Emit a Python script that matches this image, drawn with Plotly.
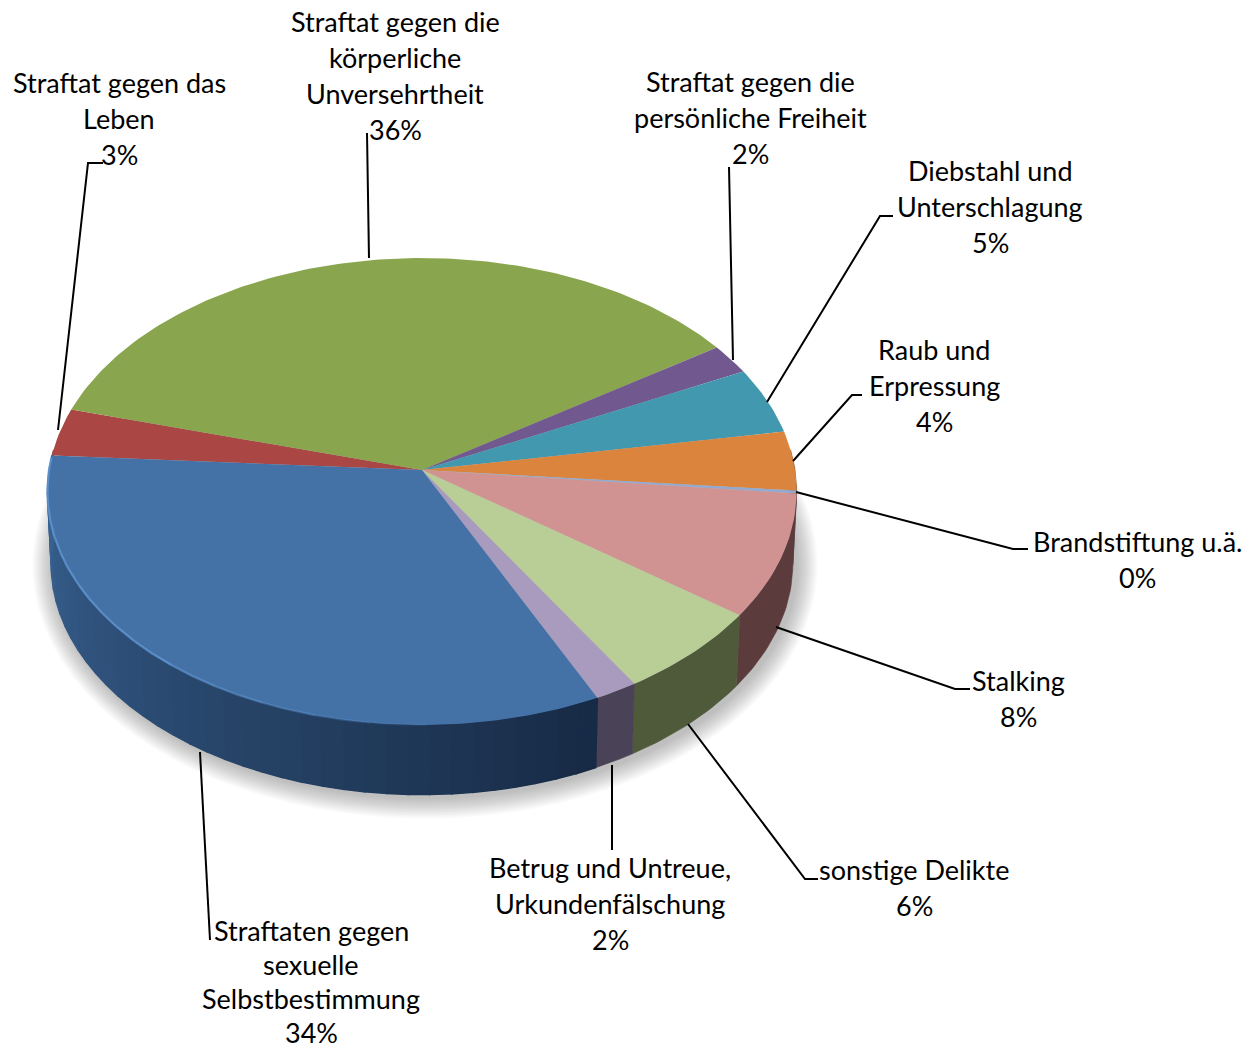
import math
import plotly.graph_objects as go

# ---- data ----
categories = [
    "Straftat gegen das Leben", "Straftat gegen die körperliche Unversehrtheit",
    "Straftat gegen die persönliche Freiheit", "Diebstahl und Unterschlagung",
    "Raub und Erpressung", "Brandstiftung u.ä.", "Stalking", "sonstige Delikte",
    "Betrug und Untreue, Urkundenfälschung", "Straftaten gegen sexuelle Selbstbestimmung",
]
values = [3.3, 36.3, 2.1, 4.6, 4.1, 0.2, 8.5, 6.1, 1.7, 33.1]
percent_labels = ["3%", "36%", "2%", "5%", "4%", "0%", "8%", "6%", "2%", "34%"]
label_lines = [
    ["Straftat gegen das", "Leben"],
    ["Straftat gegen die", "körperliche", "Unversehrtheit"],
    ["Straftat gegen die", "persönliche Freiheit"],
    ["Diebstahl und", "Unterschlagung"],
    ["Raub und", "Erpressung"],
    ["Brandstiftung u.ä."],
    ["Stalking"],
    ["sonstige Delikte"],
    ["Betrug und Untreue,", "Urkundenfälschung"],
    ["Straftaten gegen", "sexuelle", "Selbstbestimmung"],
]
top_colors = ["#AA4643", "#89A54E", "#71588F", "#4198AF", "#DB843D",
              "#93A9CF", "#D19392", "#B9CD96", "#A99BBD", "#4472A7"]
side_colors = ["#5a2a28", "#4e5e2c", "#3f3152", "#255766", "#7d4b22",
               "#54607a", "#5c3b3d", "#4e5a3a", "#4a4256", "#2c4a70"]

# ---- layout of the drawing (pixels of the 1256x1050 page) ----
W, H = 1256, 1050
CX, CY = 422, 470        # apex of the pie on the page
A, B, K = 373, 231.5, -0.092   # perspective projection of the disc
ELL_Y = 491              # centre of the projected ellipse
DEPTH, SHRINK = 72, 0.99
START = 285.5 - 360 * values[0] / 100   # clockwise from north
FONT = "Lato"
FS = 27
label_pos = [(119, 82), (395, 21), (750, 81), (990, 170), (934, 349),
             (1137, 541), (1018, 680), (914, 869), (610, 867), (311, 930)]
label_pitch = [36, 36, 36, 36, 36, 36, 36, 36, 36, 34.3]
leaders = [
    [(103, 163), (88, 163), (58, 430)],
    [(367, 133), (369, 258)],
    [(729, 167), (733, 360)],
    [(893, 216), (880, 216), (767, 402)],
    [(862, 395), (852, 395), (793, 461)],
    [(1028, 549), (1013, 549), (796, 492)],
    [(970, 689), (955, 689), (776, 627)],
    [(818, 879), (805, 879), (688, 724)],
    [(612, 850), (612, 765)],
    [(210, 940), (200, 752)],
]


def rim(deg, down=False):
    t = math.radians(deg)
    u, v = math.sin(t), -math.cos(t)
    w = 1 + K * v
    x, y = CX + A * u / w, CY + B * v / w
    if down:
        x = CX + (x - CX) * SHRINK
        y = ELL_Y + (y - ELL_Y) * SHRINK + DEPTH
    return x, y


def mix(c1, c2, f):
    a = [int(c1[i:i + 2], 16) for i in (1, 3, 5)]
    b = [int(c2[i:i + 2], 16) for i in (1, 3, 5)]
    return "#%02x%02x%02x" % tuple(round(p + (q - p) * f) for p, q in zip(a, b))


def steps(a0, a1, n):
    return [a0 + (a1 - a0) * i / n for i in range(n + 1)]


fig = go.Figure()


def poly(xs, ys, color, line=None, lw=0.6):
    fig.add_trace(go.Scatter(x=xs, y=ys, mode="lines", fill="toself", fillcolor=color,
                             line=dict(width=lw if line else 0, color=line or color),
                             hoverinfo="skip", showlegend=False))


# soft shadow below the disc
for i in range(14):
    g = 1 + (13 - i) * 1.5
    xs, ys = [], []
    for d in range(0, 361, 4):
        t = math.radians(d)
        xs.append(CX + 3 + (372 + g) * math.sin(t))
        ys.append(ELL_Y + 72 + (233 + g) * -math.cos(t) + 2)
    poly(xs, ys, "rgba(70,70,70,0.028)")

# slice boundaries
bounds = [START]
for v in values:
    bounds.append(bounds[-1] + 360 * v / sum(values))

# side walls, visible on the front half only
VIS0, VIS1 = 85, 275
blue_left, blue_right = "#3a6494", "#172a45"
for i, v in enumerate(values):
    a0, a1 = bounds[i], bounds[i + 1]
    for shift in (0, -360):
        b0, b1 = max(a0 + shift, VIS0), min(a1 + shift, VIS1)
        if b1 <= b0:
            continue
        is_blue = i == len(values) - 1
        n = max(1, int((b1 - b0) / 3)) if is_blue else 1
        grid = steps(b0, b1, n)
        for p, q in zip(grid[:-1], grid[1:]):
            arc = steps(p, q, max(2, int(q - p)))
            top = [rim(d) for d in arc]
            low = [rim(d, True) for d in reversed(arc)]
            pts = top + low + top[:1]
            col = side_colors[i]
            if is_blue:
                col = mix(blue_right, blue_left, (0.5 * (p + q) - b0) / (b1 - b0))
            poly([c[0] for c in pts], [c[1] for c in pts], col, col, 1.5 if is_blue else 0.6)

# top surface
for i, v in enumerate(values):
    arc = steps(bounds[i], bounds[i + 1], max(2, int(360 * v / 100)))
    pts = [(CX, CY)] + [rim(d) for d in arc] + [(CX, CY)]
    poly([c[0] for c in pts], [c[1] for c in pts], top_colors[i])

# pale rim of the blue slice, fading towards the front
edges = steps(bounds[-2] + 25, bounds[-1] - 0.5, 12)
for n, (p, q) in enumerate(zip(edges[:-1], edges[1:])):
    pts = [rim(d) for d in steps(p, q, 8)]
    alpha = 0.75 * min(1, (n + 1) / 6)
    fig.add_trace(go.Scatter(x=[c[0] for c in pts], y=[c[1] for c in pts], mode="lines",
                             line=dict(width=2.2, color=f"rgba(100,155,215,{alpha:.2f})"),
                             hoverinfo="skip", showlegend=False))

# leader lines
for pts in leaders:
    fig.add_trace(go.Scatter(x=[c[0] for c in pts], y=[c[1] for c in pts], mode="lines",
                             line=dict(width=2, color="black"),
                             hoverinfo="skip", showlegend=False))

# labels, one line at a time for exact spacing
for lines, pct, (x, y), pitch in zip(label_lines, percent_labels, label_pos, label_pitch):
    for j, s in enumerate(lines + [pct]):
        fig.add_annotation(x=x, y=y + j * pitch, text=s, showarrow=False,
                           xanchor="center", yanchor="middle",
                           font=dict(family=FONT, size=FS, color="black"))

fig.update_layout(
    width=W, height=H, autosize=False,
    margin=dict(l=0, r=0, t=0, b=0),
    paper_bgcolor="white", plot_bgcolor="white",
    showlegend=False,
    xaxis=dict(range=[0, W], visible=False, fixedrange=True),
    yaxis=dict(range=[H, 0], visible=False, fixedrange=True),
)
fig.write_html("out.html", config={"displayModeBar": False},
               post_script="document.body.style.margin='0';")
